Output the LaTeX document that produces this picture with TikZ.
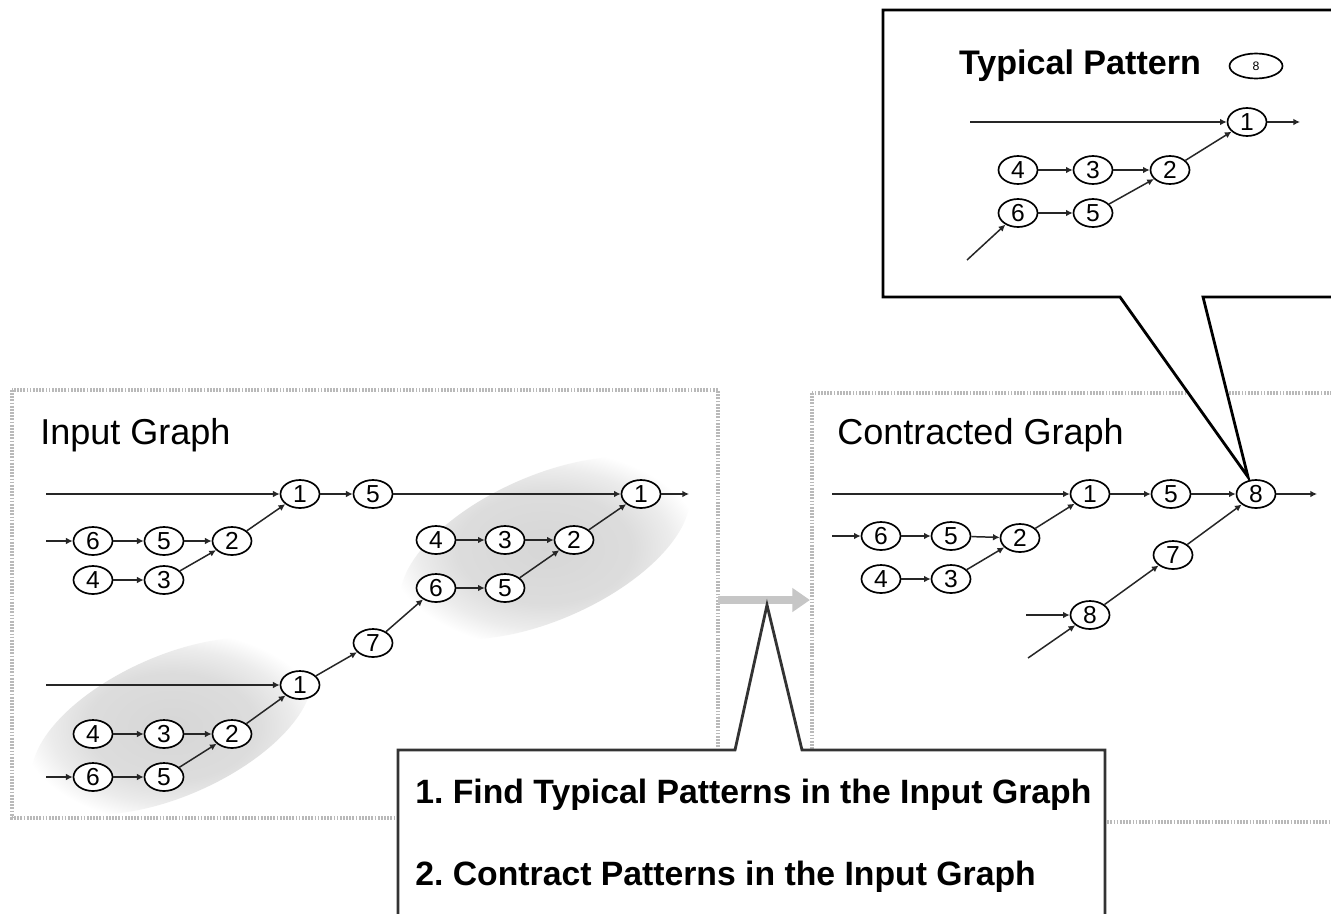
\documentclass[tikz,border=0pt]{standalone}
\usepackage{fontspec}
\setmainfont{Liberation Sans}
\usetikzlibrary{shapes.geometric,arrows.meta}
% soft grey cloud used to mark the pattern occurrences
\pgfdeclareradialshading{blobshade}{\pgfpoint{0bp}{0bp}}{%
  color(0bp)=(gray!32); color(14bp)=(gray!27); color(20bp)=(gray!15); color(25bp)=(white); color(50bp)=(white)}
\tikzset{
  vtx/.style={ellipse, draw=black, line width=0.95pt, fill=white,
    minimum width=0.78cm, minimum height=0.56cm, inner sep=0pt,
    font=\fontsize{14}{14}\selectfont},
  link/.style={draw=black!85, line width=0.85pt, -{Latex[length=3.8pt,width=3.8pt]}},
  panel/.style={draw=gray!55, line width=1.8pt, dash pattern=on 1pt off 0.8pt},
  callout/.style={draw=black, line width=1.6pt, fill=white, line join=miter},
  title/.style={font=\fontsize{20.5}{24}\selectfont, anchor=west, inner sep=0pt},
  calltext/.style={font=\bfseries\fontsize{19.2}{22}\selectfont\frenchspacing, anchor=west, inner sep=0pt},
  blob/.style={shading=blobshade},
}
\begin{document}
\begin{tikzpicture}[x=0.02cm,y=-0.02cm]
\useasboundingbox (0,0) rectangle (1331,913);
\clip (0,0) rectangle (1331,913);
\fill[white] (0,0) rectangle (1331,913);

% ---------- panels ----------
\draw[panel] (12,390) rectangle (718,818);
\draw[panel] (812,393) rectangle (1345,822);

% highlighted occurrences of the pattern
\shade[blob, rotate around={24:(545,548)}] (545,548) ellipse [x radius=155, y radius=72];
\shade[blob, rotate around={24:(172,726)}] (172,726) ellipse [x radius=150, y radius=70];

% transition arrow between the panels
\coordinate (gs) at (718,600);
\coordinate (ge) at (810,600);
\draw[gray!45, line width=5pt, -{Triangle[length=10pt,width=13pt]}] (gs) -- (ge);

% ---------- input graph ----------
\node[title] (tin) at (40,435) {Input Graph};

\coordinate (ain1) at (46,494);
\coordinate (ain2) at (46,541);
\coordinate (ain3) at (46,685);
\coordinate (ain4) at (46,777);
\coordinate (aout) at (689,494);

\node[vtx] (a1) at (300,494) {1};
\node[vtx] (a5) at (373,494) {5};
\node[vtx] (ar1) at (641,494) {1};
\node[vtx] (a6) at (93,541) {6};
\node[vtx] (a5b) at (164,541) {5};
\node[vtx] (a2) at (232,541) {2};
\node[vtx] (a4) at (93,580) {4};
\node[vtx] (a3) at (164,580) {3};

\node[vtx] (r4) at (436,540) {4};
\node[vtx] (r3) at (505,540) {3};
\node[vtx] (r2) at (574,540) {2};
\node[vtx] (r6) at (436,588) {6};
\node[vtx] (r5) at (505,588) {5};

\node[vtx] (b7) at (373,643) {7};
\node[vtx] (b1) at (300,685) {1};
\node[vtx] (b4) at (93,734) {4};
\node[vtx] (b3) at (164,734) {3};
\node[vtx] (b2) at (232,734) {2};
\node[vtx] (b6) at (93,777) {6};
\node[vtx] (b5) at (164,777) {5};

\draw[link] (ain1) -- (a1);
\draw[link] (a1) -- (a5);
\draw[link] (a5) -- (ar1);
\draw[link] (ar1) -- (aout);
\draw[link] (ain2) -- (a6);
\draw[link] (a6) -- (a5b);
\draw[link] (a5b) -- (a2);
\draw[link] (a4) -- (a3);
\draw[link] (a3) -- (a2);
\draw[link] (a2) -- (a1);
\draw[link] (r4) -- (r3);
\draw[link] (r3) -- (r2);
\draw[link] (r6) -- (r5);
\draw[link] (r5) -- (r2);
\draw[link] (r2) -- (ar1);
\draw[link] (ain3) -- (b1);
\draw[link] (b1) -- (b7);
\draw[link] (b7) -- (r6);
\draw[link] (b4) -- (b3);
\draw[link] (b3) -- (b2);
\draw[link] (ain4) -- (b6);
\draw[link] (b6) -- (b5);
\draw[link] (b5) -- (b2);
\draw[link] (b2) -- (b1);

% ---------- callouts ----------
\draw[callout, draw=black!80] (398,950) -- (398,750) -- (735,750) -- (767,605)
  -- (802,750) -- (1105,750) -- (1105,950);
\node[calltext] (s1) at (415,795) {1. Find Typical Patterns in the Input Graph};
\node[calltext] (s2) at (415,877) {2. Contract Patterns in the Input Graph};

\draw[callout] (1350,297) -- (1203,297) -- (1248,477) -- (1120,297)
  -- (883,297) -- (883,10) -- (1350,10);

% ---------- typical pattern ----------
\node[font=\bfseries\fontsize{19.4}{22}\selectfont, inner sep=0pt] (ttl) at (1080,66) {Typical Pattern};
\node[ellipse, draw=black, line width=0.95pt, minimum width=1.06cm, minimum height=0.5cm,
  inner sep=0pt, font=\fontsize{7}{7}\selectfont] (t8) at (1256,66) {8};

\coordinate (tin1) at (970,122);
\coordinate (tin2) at (967,260);
\coordinate (tout) at (1300,122);
\node[vtx] (t1) at (1247,122) {1};
\node[vtx] (t4) at (1018,170) {4};
\node[vtx] (t3) at (1093,170) {3};
\node[vtx] (t2) at (1170,170) {2};
\node[vtx] (t6) at (1018,213) {6};
\node[vtx] (t5) at (1093,213) {5};

\draw[link] (tin1) -- (t1);
\draw[link] (t1) -- (tout);
\draw[link] (t4) -- (t3);
\draw[link] (t3) -- (t2);
\draw[link] (t2) -- (t1);
\draw[link] (t6) -- (t5);
\draw[link] (t5) -- (t2);
\draw[link] (tin2) -- (t6);

% ---------- contracted graph ----------
\node[title] (tcg) at (837,435) {Contracted Graph};

\coordinate (cin1) at (832,494);
\coordinate (cin2) at (832,536);
\coordinate (cin3) at (1026,615);
\coordinate (cin4) at (1028,658);
\coordinate (cout) at (1317,494);

\node[vtx] (c1) at (1090,494) {1};
\node[vtx] (c5) at (1171,494) {5};
\node[vtx] (c8) at (1256,494) {8};
\node[vtx] (c6) at (881,536) {6};
\node[vtx] (c5b) at (951,536) {5};
\node[vtx] (c2) at (1020,538) {2};
\node[vtx] (c4) at (881,579) {4};
\node[vtx] (c3) at (951,579) {3};
\node[vtx] (c7) at (1173,555) {7};
\node[vtx] (c8b) at (1090,615) {8};

\draw[link] (cin1) -- (c1);
\draw[link] (c1) -- (c5);
\draw[link] (c5) -- (c8);
\draw[link] (c8) -- (cout);
\draw[link] (cin2) -- (c6);
\draw[link] (c6) -- (c5b);
\draw[link] (c5b) -- (c2);
\draw[link] (c4) -- (c3);
\draw[link] (c3) -- (c2);
\draw[link] (c2) -- (c1);
\draw[link] (cin3) -- (c8b);
\draw[link] (cin4) -- (c8b);
\draw[link] (c8b) -- (c7);
\draw[link] (c7) -- (c8);
\end{tikzpicture}
\end{document}
